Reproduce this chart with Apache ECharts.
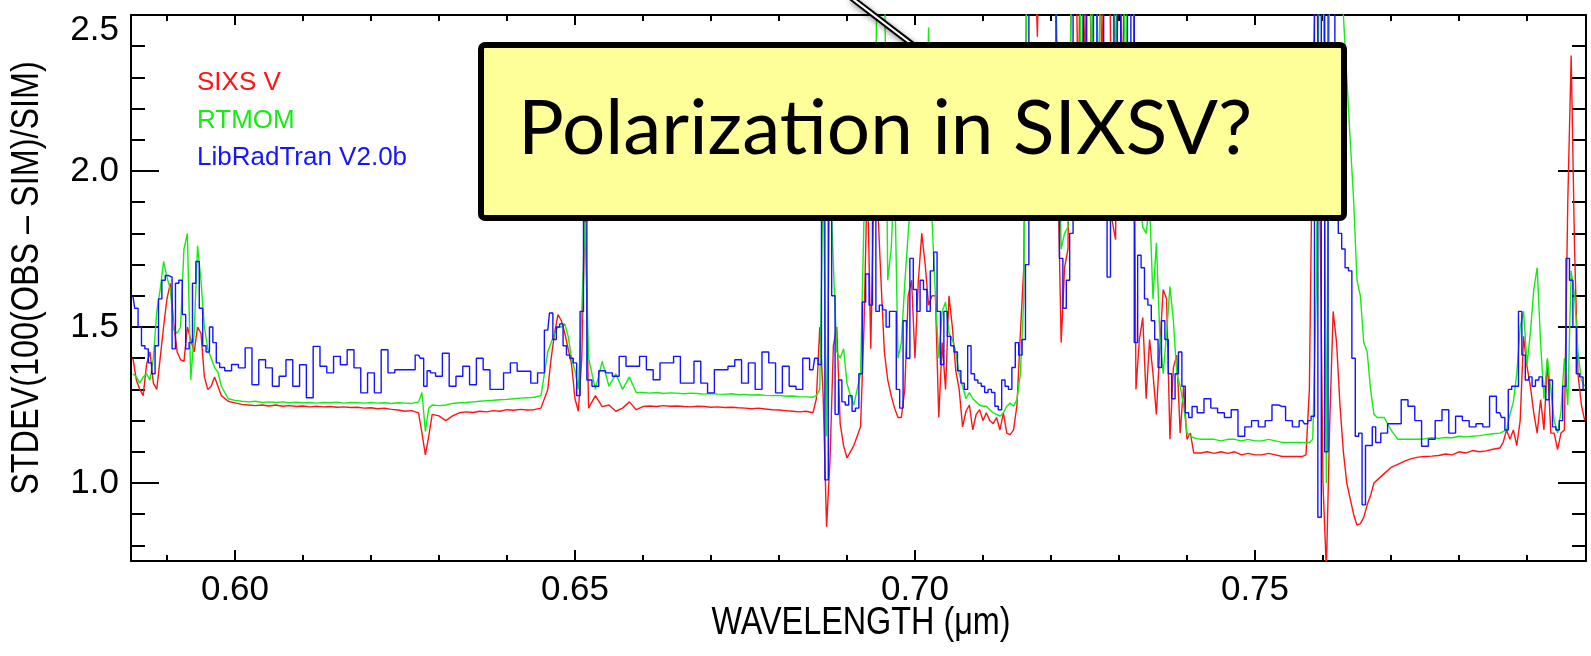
<!DOCTYPE html>
<html><head><meta charset="utf-8">
<script src="https://cdn.jsdelivr.net/npm/echarts@6/dist/echarts.min.js"></script>
<style>html,body{margin:0;padding:0;background:#fff}#c{width:1591px;height:656px}</style>
</head><body><div id="c"></div>
<script>
// ---- data (wavelength in micrometres) ----
const wavelength = [
  0.585,0.5855,0.586,0.5865,0.587,0.5875,0.588,0.5885,0.589,0.5895,0.590,0.5905,0.591,0.5915,0.592,0.5925,0.593,0.5935,0.594,0.5945,0.595,0.5955,0.596,0.5965,0.597,0.5975,0.598,
  0.599,0.600,0.601,0.602,0.603,0.604,0.605,0.606,0.607,0.608,0.609,0.610,0.611,0.612,0.613,0.614,0.615,0.616,0.617,0.618,0.619,0.620,0.621,0.622,0.623,0.624,0.625,0.626,0.627,
  0.6275,0.628,0.6285,
  0.629,0.630,0.631,0.632,0.633,0.634,0.635,0.636,0.637,0.638,0.639,0.640,0.641,0.642,0.643,0.644,0.645,
  0.646,0.6465,0.647,0.6475,0.648,0.6485,0.649,0.6495,0.650,0.6505,0.651,0.6515,0.652,
  0.653,0.654,0.655,0.656,0.657,0.658,0.659,0.660,0.661,0.662,0.663,0.664,0.665,0.666,0.667,0.668,0.669,0.670,0.671,0.672,0.673,0.674,0.675,0.676,0.677,0.678,0.679,0.680,0.681,0.682,0.683,0.684,0.685,
  0.6855,0.686,0.6865,0.687,0.6875,0.688,0.6885,0.689,0.6895,0.690,0.6905,0.691,0.6915,0.692,0.6925,0.693,0.6935,0.694,0.6945,0.695,0.6955,0.696,0.6965,0.697,0.6975,0.698,0.6985,0.699,0.6995,0.700,
  0.7005,0.701,0.7015,0.702,0.7025,0.703,0.7035,0.704,0.7045,0.705,0.7055,0.706,0.7065,0.707,0.7075,0.708,0.7085,0.709,0.7095,0.710,0.7105,0.711,0.7115,0.712,0.7125,0.713,0.7135,0.714,0.7145,0.715,0.7155,0.716,0.7165,
  0.717,0.7175,0.718,0.7185,0.719,0.7195,0.720,0.7205,
  0.721,0.7215,0.722,0.7225,0.723,0.7235,0.724,0.7245,0.725,0.7255,0.726,0.7265,0.727,0.7275,0.728,0.7285,0.729,0.7295,0.730,0.7305,0.731,0.7315,0.732,0.7325,0.733,0.7335,0.734,0.7345,0.735,0.7355,0.736,0.7365,0.737,0.7375,0.738,0.7385,0.739,0.7395,0.740,0.7405,0.741,
  0.742,0.743,0.744,0.745,0.746,0.747,0.748,0.749,0.750,0.751,0.752,0.753,0.754,0.755,0.756,
  0.757,0.7575,0.758,0.7585,0.759,0.7595,0.760,0.7605,0.761,0.7615,0.762,0.7625,0.763,0.7635,0.764,0.7645,0.765,0.7655,0.766,0.7665,0.767,0.7675,0.768,
  0.769,0.770,0.771,0.772,0.773,0.774,0.775,0.776,0.777,0.778,0.779,0.780,0.781,0.782,0.783,0.784,0.785,0.786,
  0.7865,0.787,0.7875,0.788,0.7885,0.789,0.7895,0.790,0.7905,0.791,0.7915,0.792,0.7925,0.793,0.7935,0.794,0.7945,0.795,0.7955,0.796,0.7965,0.797,0.7975,0.798,0.7985
];
const sixsV = [
  1.40,1.33,1.30,1.28,1.38,1.42,1.32,1.30,1.40,1.50,1.59,1.64,1.51,1.42,1.395,1.39,1.50,1.46,1.42,1.50,1.48,1.34,1.30,1.31,1.34,1.31,1.28,
  1.262,1.257,1.252,1.25,1.248,1.25,1.247,1.25,1.246,1.248,1.245,1.247,1.244,1.246,1.244,1.245,1.243,1.244,1.242,1.243,1.24,1.241,1.238,1.24,1.236,1.234,1.23,1.232,1.225,
  1.16,1.09,1.15,
  1.22,1.215,1.20,1.215,1.225,1.228,1.226,1.23,1.228,1.232,1.23,1.235,1.233,1.236,1.234,1.235,1.24,
  1.30,1.40,1.48,1.54,1.52,1.48,1.43,1.38,1.27,1.23,1.40,1.90,1.24,
  1.28,1.245,1.25,1.23,1.24,1.26,1.235,1.245,1.247,1.245,1.248,1.246,1.247,1.245,1.244,1.246,1.245,1.243,1.244,1.242,1.243,1.241,1.24,1.238,1.24,1.237,1.235,1.234,1.232,1.23,1.228,1.23,1.225,
  1.27,1.50,1.28,0.86,1.07,1.44,1.50,1.19,1.12,1.08,1.10,1.12,1.15,1.18,1.50,2.0,1.43,2.0,1.90,1.65,1.42,1.33,1.28,1.24,1.21,1.21,1.30,1.60,1.65,1.40,
  1.65,1.80,1.70,1.57,1.60,1.60,1.21,1.45,1.30,1.60,1.50,1.36,1.30,1.18,1.23,1.25,1.17,1.22,1.235,1.20,1.225,1.20,1.19,1.21,1.17,1.225,1.16,1.155,1.17,1.25,1.48,1.69,2.8,
  3.0,2.8,2.43,3.0,3.0,2.9,3.0,3.0,
  2.0,1.45,1.69,1.75,2.6,3.0,2.2,3.0,2.3,3.0,2.2,3.0,3.0,2.3,3.0,3.0,1.84,1.78,3.0,2.2,3.0,3.0,3.0,1.30,1.46,1.53,1.27,1.46,1.35,1.22,1.43,1.62,1.59,1.14,1.37,1.41,1.16,1.31,1.14,1.16,1.096,
  1.096,1.10,1.095,1.10,1.095,1.10,1.09,1.095,1.09,1.09,1.095,1.09,1.085,1.085,1.085,
  1.085,1.09,1.30,2.2,2.8,2.0,1.0,0.72,1.20,1.55,1.45,1.25,1.10,1.00,0.95,0.90,0.865,0.87,0.89,0.93,0.96,1.00,1.01,
  1.03,1.05,1.06,1.07,1.078,1.083,1.085,1.086,1.088,1.093,1.09,1.10,1.096,1.104,1.10,1.103,1.108,1.112,
  1.13,1.17,1.14,1.17,1.12,1.20,1.47,1.374,1.31,1.225,1.16,1.267,1.17,1.395,1.16,1.16,1.107,1.16,1.17,1.90,2.37,1.75,1.35,1.25,1.20
];
const rtmom = [
  1.35,1.34,1.32,1.34,1.35,1.33,1.40,1.55,1.62,1.71,1.66,1.62,1.49,1.48,1.50,1.75,1.80,1.33,1.48,1.76,1.65,1.50,1.43,1.40,1.37,1.355,1.31,
  1.27,1.265,1.262,1.26,1.262,1.258,1.26,1.258,1.26,1.257,1.259,1.257,1.258,1.256,1.258,1.257,1.259,1.256,1.258,1.257,1.256,1.258,1.256,1.257,1.255,1.257,1.256,1.255,1.26,
  1.29,1.165,1.24,
  1.25,1.248,1.25,1.255,1.257,1.258,1.26,1.262,1.264,1.265,1.267,1.268,1.27,1.272,1.273,1.275,1.28,
  1.42,1.45,1.48,1.50,1.50,1.51,1.47,1.40,1.36,1.30,1.55,1.86,1.40,
  1.30,1.39,1.31,1.35,1.30,1.34,1.29,1.29,1.288,1.29,1.287,1.289,1.288,1.286,1.288,1.287,1.285,1.287,1.285,1.284,1.286,1.283,1.284,1.282,1.283,1.281,1.28,1.281,1.278,1.279,1.277,1.276,1.275,
  1.28,1.30,2.0,1.15,2.0,1.70,1.42,1.40,1.43,1.32,1.28,1.25,1.30,1.35,1.85,2.0,1.90,2.0,2.7,2.7,2.7,1.65,1.75,2.0,1.40,1.45,1.64,1.80,1.95,2.0,
  1.95,2.0,1.85,2.46,1.85,1.60,1.40,1.55,1.58,1.48,1.46,1.42,1.35,1.31,1.27,1.29,1.27,1.26,1.25,1.246,1.246,1.235,1.225,1.22,1.214,1.225,1.246,1.256,1.246,1.267,1.35,1.59,2.8,
  3.0,3.0,3.0,2.9,3.0,3.0,3.0,2.8,
  2.3,1.75,1.80,1.82,2.6,3.0,3.0,2.2,3.0,3.0,2.3,3.0,2.2,3.0,3.0,3.0,3.0,2.3,3.0,3.0,2.2,3.0,3.0,1.85,1.95,1.82,1.80,1.90,1.59,1.77,1.48,1.35,1.48,1.63,1.52,1.35,1.31,1.25,1.16,1.15,1.145,
  1.14,1.14,1.14,1.135,1.14,1.14,1.135,1.14,1.135,1.135,1.14,1.135,1.13,1.13,1.13,
  1.13,1.13,1.13,1.14,1.6,2.8,2.8,1.0,2.8,2.8,2.8,2.8,2.5,2.3,2.1,1.91,1.65,1.60,1.45,1.42,1.30,1.22,1.21,
  1.21,1.17,1.14,1.14,1.14,1.14,1.142,1.145,1.143,1.146,1.145,1.15,1.148,1.15,1.152,1.155,1.158,1.16,
  1.165,1.17,1.22,1.26,1.35,1.50,1.55,1.38,1.48,1.62,1.69,1.45,1.27,1.40,1.30,1.20,1.16,1.23,1.40,1.25,1.68,1.60,1.42,1.33,1.31
];
const libRadTran = [
  1.60,1.56,1.50,1.44,1.43,1.385,1.35,1.44,1.59,1.65,1.665,1.66,1.43,1.64,1.65,1.54,1.43,1.45,1.64,1.71,1.56,1.44,1.42,1.50,1.45,1.385,1.37,
  1.36,1.38,1.369,1.433,1.315,1.395,1.369,1.31,1.342,1.395,1.31,1.379,1.273,1.438,1.374,1.353,1.406,1.379,1.427,1.369,1.289,1.353,1.289,1.427,1.353,1.363,1.363,1.363,1.41,
  1.40,1.31,1.36,
  1.353,1.342,1.416,1.31,1.342,1.374,1.315,1.40,1.363,1.30,1.30,1.353,1.385,1.358,1.358,1.32,1.353,
  1.49,1.545,1.46,1.50,1.51,1.44,1.41,1.40,1.385,1.28,1.55,1.84,1.33,
  1.31,1.36,1.353,1.342,1.406,1.374,1.374,1.406,1.363,1.331,1.385,1.385,1.406,1.32,1.32,1.39,1.32,1.289,1.363,1.363,1.374,1.395,1.32,1.385,1.30,1.42,1.385,1.289,1.374,1.31,1.30,1.40,1.363,
  1.40,1.38,2.0,1.01,1.9,1.60,1.22,1.33,1.26,1.25,1.28,1.23,1.24,1.35,1.58,1.67,1.57,1.95,1.55,1.57,1.555,1.50,1.55,1.55,1.30,1.24,1.52,1.40,1.72,1.62,
  1.55,1.65,1.62,1.55,1.68,1.74,1.55,1.38,1.55,1.47,1.44,1.42,1.36,1.32,1.30,1.44,1.35,1.33,1.32,1.31,1.29,1.30,1.29,1.246,1.235,1.33,1.31,1.30,1.37,1.45,1.41,1.46,1.70,
  2.8,3.0,3.0,3.0,2.9,3.0,3.0,2.9,
  2.1,1.72,1.56,1.65,1.80,3.0,3.0,3.0,2.2,3.0,3.0,2.2,3.0,3.0,2.0,1.66,2.2,3.0,2.2,3.0,3.0,2.4,3.0,1.45,1.73,1.69,1.59,1.57,1.52,1.46,1.37,1.52,1.46,1.35,1.27,1.35,1.42,1.31,1.225,1.21,1.245,
  1.225,1.27,1.24,1.225,1.21,1.235,1.15,1.18,1.20,1.18,1.20,1.25,1.245,1.20,1.18,
  1.20,1.19,1.20,1.214,2.8,0.89,2.8,1.10,2.8,2.8,1.85,1.80,1.75,1.69,1.68,1.40,1.15,1.16,0.93,1.12,1.12,1.18,1.13,
  1.16,1.19,1.19,1.267,1.246,1.20,1.118,1.14,1.20,1.235,1.16,1.214,1.20,1.18,1.19,1.18,1.278,1.225,
  1.21,1.17,1.30,1.31,1.31,1.55,1.41,1.33,1.34,1.31,1.33,1.34,1.31,1.267,1.33,1.18,1.17,1.20,1.31,1.72,1.65,1.50,1.35,1.34,1.30
];
const seriesNames = ['SIXS V', 'RTMOM', 'LibRadTran V2.0b'];
const xMajorTicks = [0.60, 0.65, 0.70, 0.75];
const xMinorTicks = [0.59,0.61,0.62,0.63,0.64,0.66,0.67,0.68,0.69,0.71,0.72,0.73,0.74,0.76,0.77,0.78,0.79];
const yMajorTicks = [1.0, 1.5, 2.0, 2.5];
const yMinorTicks = [0.8,0.9,1.1,1.2,1.3,1.4,1.6,1.7,1.8,1.9,2.1,2.2,2.3,2.4];
const xTitle = 'WAVELENGTH (\u03bcm)';
const yTitle = 'STDEV(100(OBS \u2013 SIM)/SIM)';
const calloutText = 'Polarization in SIXSV?';

// ---- layout / style ----
const X_MIN = 0.58471, X_MAX = 0.79868, Y_MIN = 0.75, Y_MAX = 2.5;
const RED = '#ff1414', GREEN = '#14ec14', BLUE = '#1414ff';
const BLACK = '#000';
const REG = '"Liberation Sans", Arial, sans-serif';
const tickStyle = { color: BLACK, width: 2 };

function xAx(pos, ticks, len, showLine, extra) {
  return Object.assign({
    type: 'value', position: pos, min: X_MIN, max: X_MAX,
    axisLine: { show: showLine, onZero: false, lineStyle: { color: BLACK, width: 2 } },
    axisTick: { show: true, inside: true, length: len, lineStyle: tickStyle, customValues: ticks },
    axisLabel: { show: false }, splitLine: { show: false }, minorTick: { show: false }
  }, extra || {});
}
function yAx(pos, ticks, len, showLine, extra) {
  return Object.assign({
    type: 'value', position: pos, min: Y_MIN, max: Y_MAX,
    axisLine: { show: showLine, onZero: false, lineStyle: { color: BLACK, width: 2 } },
    axisTick: { show: true, inside: true, length: len, lineStyle: tickStyle, customValues: ticks },
    axisLabel: { show: false }, splitLine: { show: false }, minorTick: { show: false }
  }, extra || {});
}

const chart = echarts.init(document.getElementById('c'), null, { renderer: 'canvas' });
const colors = [RED, GREEN, BLUE];
const values = [sixsV, rtmom, libRadTran];

chart.setOption({
  animation: false,
  backgroundColor: '#fff',
  grid: { left: 131, right: 5, top: 15, bottom: 95, containLabel: false },
  legend: {
    orient: 'vertical', left: 187, top: 65, icon: 'none', itemWidth: 0, itemHeight: 0, itemGap: 11.5,
    selectedMode: false,
    textStyle: { fontFamily: REG, fontSize: 26 },
    data: seriesNames.map((n, i) => ({ name: n, textStyle: { color: colors[i] } }))
  },
  xAxis: [
    xAx('bottom', xMajorTicks, 11, true, {
      axisLabel: { show: true, customValues: xMajorTicks, formatter: v => v.toFixed(2),
        color: BLACK, fontFamily: REG, fontSize: 35, margin: 12 }
    }),
    xAx('bottom', xMinorTicks, 6, false),
    xAx('top', xMajorTicks, 10, true),
    xAx('top', xMinorTicks, 6, false)
  ],
  yAxis: [
    yAx('left', yMajorTicks, 28, true, {
      axisLabel: { show: true, customValues: yMajorTicks,
        formatter: v => (v === 2.5 ? '{top|2.5}' : v.toFixed(1)),
        color: BLACK, fontFamily: REG, fontSize: 35, margin: 12,
        rich: { top: { padding: [30, 0, 0, 0], color: BLACK, fontFamily: REG, fontSize: 35 } } }
    }),
    yAx('left', yMinorTicks, 14, false),
    yAx('right', yMajorTicks, 28, true),
    yAx('right', yMinorTicks, 14, false)
  ],
  series: seriesNames.map((n, i) => ({
    name: n, type: 'line', xAxisIndex: 0, yAxisIndex: 0,
    data: wavelength.map((w, k) => [w, values[i][k]]),
    showSymbol: false, symbol: 'none', clip: true,
    step: i === 2 ? 'middle' : false,
    lineStyle: { color: colors[i], width: 1.4 },
    itemStyle: { color: colors[i] },
    z: 2 + i
  })),
  graphic: [
    // axis titles (condensed like the original narrow Helvetica)
    { type: 'text', z: 50, x: 861, y: 623, scaleX: 0.83,
      style: { text: xTitle, font: '39px ' + REG, fill: BLACK, align: 'center', verticalAlign: 'middle' } },
    { type: 'text', z: 50, x: 27.5, y: 278, rotation: Math.PI / 2, scaleX: 0.83,
      style: { text: yTitle, font: '39px ' + REG, fill: BLACK, align: 'center', verticalAlign: 'middle' } },
    // callout pointer
    { type: 'line', z: 100, shape: { x1: 849, y1: -4, x2: 913, y2: 45 },
      style: { stroke: BLACK, lineWidth: 6, shadowBlur: 6, shadowColor: 'rgba(0,0,0,0.45)', shadowOffsetX: 3, shadowOffsetY: 4 } },
    { type: 'line', z: 101, shape: { x1: 849, y1: -4, x2: 913, y2: 45 },
      style: { stroke: '#fff', lineWidth: 2.2 } },
    // callout box
    { type: 'rect', z: 102, shape: { x: 481, y: 45, width: 863, height: 173, r: 4 },
      style: { fill: '#ffff99', stroke: BLACK, lineWidth: 6 } },
    { type: 'text', z: 103, x: 518, y: 129,
      style: { text: calloutText, font: '76.5px Lato', fill: BLACK, align: 'left', verticalAlign: 'middle' } }
  ]
});
</script>
</body></html>
